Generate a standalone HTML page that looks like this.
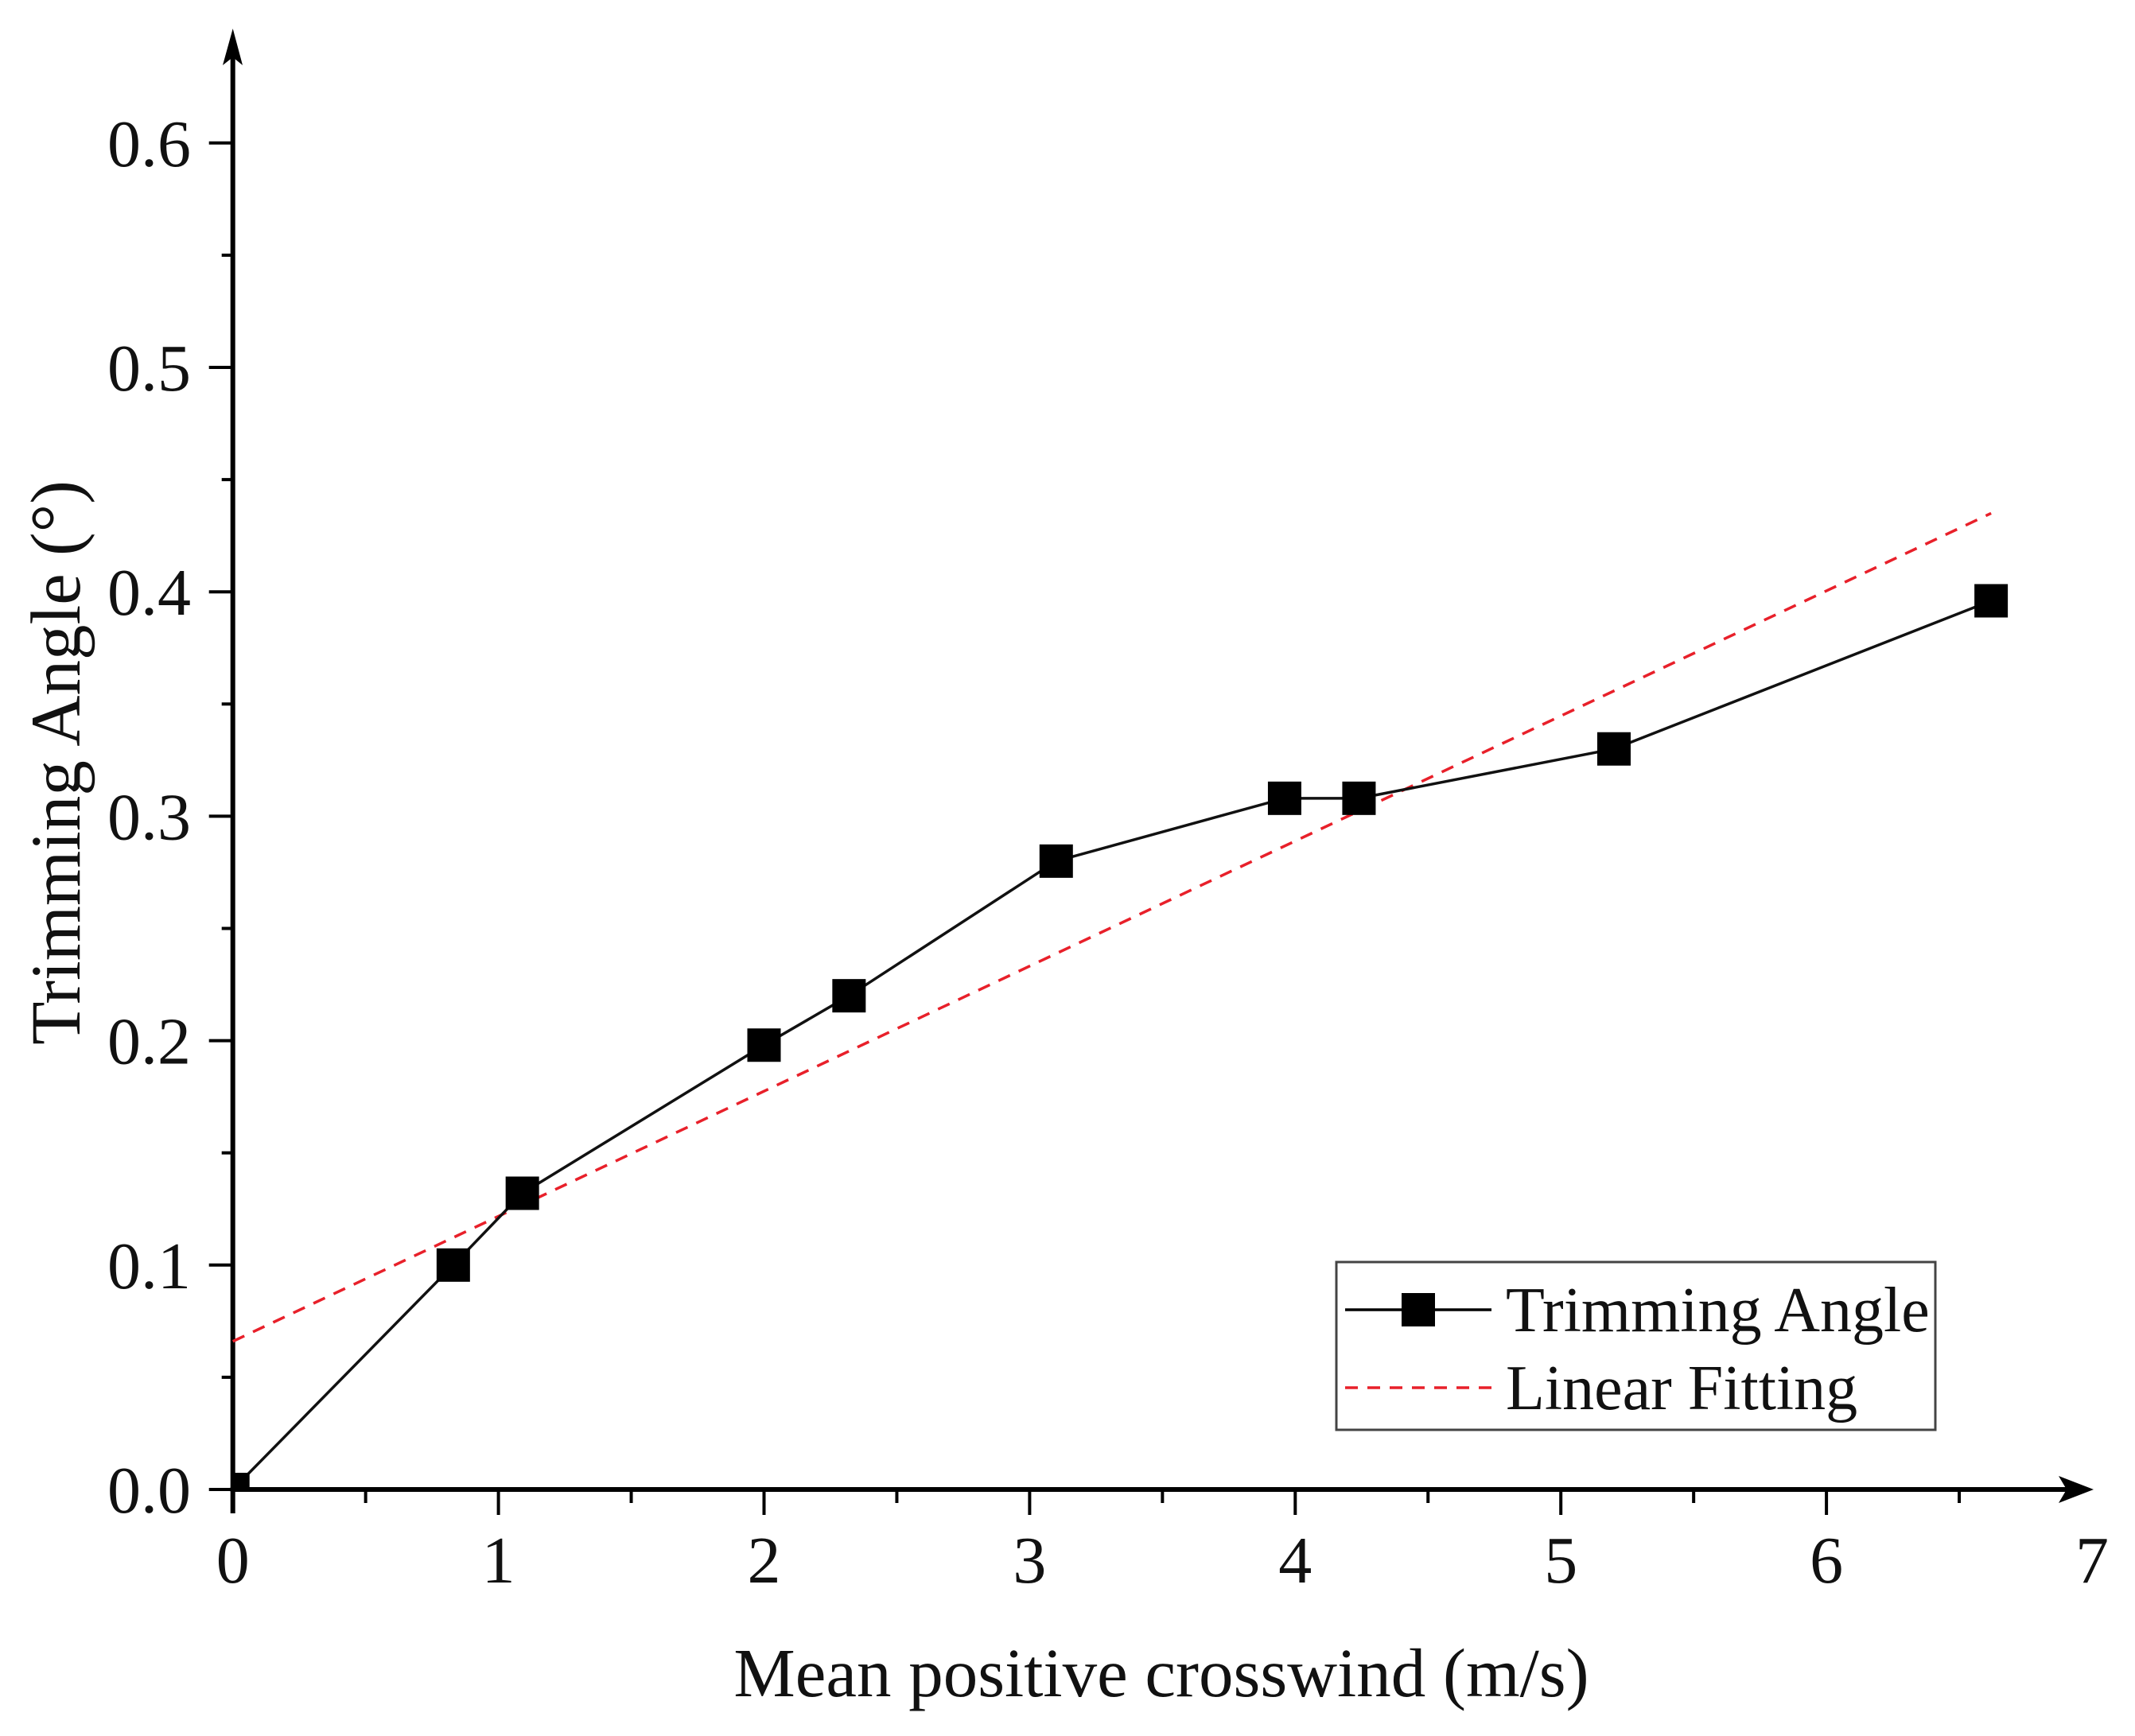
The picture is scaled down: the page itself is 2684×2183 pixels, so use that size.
<!DOCTYPE html>
<html><head><meta charset="utf-8"><style>
html,body{margin:0;padding:0;background:#fff}
svg{display:block}
text{font-family:"Liberation Serif",serif;fill:#111}
</style></head><body>
<svg id="chart" width="2684" height="2183" viewBox="0 0 2684 2183">
<defs><clipPath id="plotclip"><rect x="292" y="30" width="2340" height="1843"/></clipPath></defs>
<g id="axes"></g>
<g id="series" clip-path="url(#plotclip)"></g>
<g id="legend">
<rect x="1680" y="1587" width="753" height="211" fill="#fff" stroke="#444" stroke-width="3"/>
<g>
<line x1="1691" y1="1647" x2="1875" y2="1647" stroke="#000" stroke-width="3.5"/>
<rect x="1762" y="1626" width="42" height="42" fill="#000"/>
<text x="1893" y="1674" font-size="80">Trimming Angle</text>
</g>
<g>
<line x1="1691" y1="1745" x2="1875" y2="1745" stroke="#e8202a" stroke-width="3.5" stroke-dasharray="16,12"/>
<text x="1893" y="1772" font-size="80">Linear Fitting</text>
</g>
</g>
<text x="1460" y="2133" font-size="87" text-anchor="middle">Mean positive crosswind (m/s)</text>
<text transform="translate(100,959) rotate(-90)" font-size="89" text-anchor="middle">Trimming Angle (°)</text>
</svg>
<script>
const xValues = [0, 0.83, 1.09, 2.0, 2.32, 3.1, 3.96, 4.24, 5.2, 6.62];
const yValues = [0, 0.1, 0.132, 0.198, 0.22, 0.28, 0.308, 0.308, 0.33, 0.396];
const fitX = [0, 6.62];
const fitY = [0.066, 0.435];
const xTicks = [0, 1, 2, 3, 4, 5, 6, 7];
const yTicks = [0.0, 0.1, 0.2, 0.3, 0.4, 0.5, 0.6];
const yTickLabels = ["0.0","0.1","0.2","0.3","0.4","0.5","0.6"];

const X0 = 292.7, XS = 333.9, Y0 = 1873, YS = 2822;
function sx(v){ return X0 + v*XS; }
function sy(v){ return Y0 - v*YS; }
const NS = "http://www.w3.org/2000/svg";
function mk(tag, attrs, parent){ const e=document.createElementNS(NS,tag); for(const k in attrs) e.setAttribute(k,attrs[k]); parent.appendChild(e); return e; }
const axes = document.getElementById('axes');
const series = document.getElementById('series');

let ax = mk('line',{x1:sx(0)-3,y1:Y0,x2:2610,y2:Y0,stroke:'#000','stroke-width':6},axes);


let ah = mk('polygon',{points:'2632,1873 2588,1856 2598,1873 2588,1890',fill:'#000'},axes);


let ay = mk('line',{x1:X0,y1:Y0+30,x2:X0,y2:60,stroke:'#000','stroke-width':6},axes);


let ayh = mk('polygon',{points:'292.7,36 280,82 292.7,72 305,82',fill:'#000'},axes);



for (let i=0;i<xTicks.length;i++){
  const v=xTicks[i];
  if (v>0 && v<7){
    let t=mk('line',{x1:sx(v),y1:Y0,x2:sx(v),y2:Y0+32,stroke:'#000','stroke-width':4},axes);
    
    
  }
  if (v<7){
    let m=mk('line',{x1:sx(v+0.5),y1:Y0,x2:sx(v+0.5),y2:Y0+17,stroke:'#000','stroke-width':4},axes);
    
    
  }
  let l=mk('text',{x:sx(v),y:1990,'font-size':84,'text-anchor':'middle'},axes);
  l.textContent=String(v);
  
  
}
for (let i=0;i<yTicks.length;i++){
  const v=yTicks[i];
  let t=mk('line',{x1:X0-30,y1:sy(v),x2:X0,y2:sy(v),stroke:'#000','stroke-width':4},axes);
  
  
  if (v<0.6){
    let m=mk('line',{x1:X0-14,y1:sy(v+0.05),x2:X0,y2:sy(v+0.05),stroke:'#000','stroke-width':4},axes);
    
    
  }
  let l=mk('text',{x:240,y:sy(v)+29,'font-size':84,'text-anchor':'end'},axes);
  l.textContent=yTickLabels[i];
  
  
}
let fl = mk('line',{x1:sx(fitX[0]),y1:sy(fitY[0]),x2:sx(fitX[1]),y2:sy(fitY[1]),stroke:'#e8202a','stroke-width':3.5,'stroke-dasharray':'16,12'},series);


let pts = xValues.map((x,i)=>sx(x)+','+sy(yValues[i])).join(' ');
let pl = mk('polyline',{points:pts,fill:'none',stroke:'#111','stroke-width':3.5},series);


for (let i=0;i<xValues.length;i++){
  let r = mk('rect',{x:sx(xValues[i])-21,y:sy(yValues[i])-21,width:42,height:42,fill:'#000'},series);
  
  
}
</script>
</body></html>
